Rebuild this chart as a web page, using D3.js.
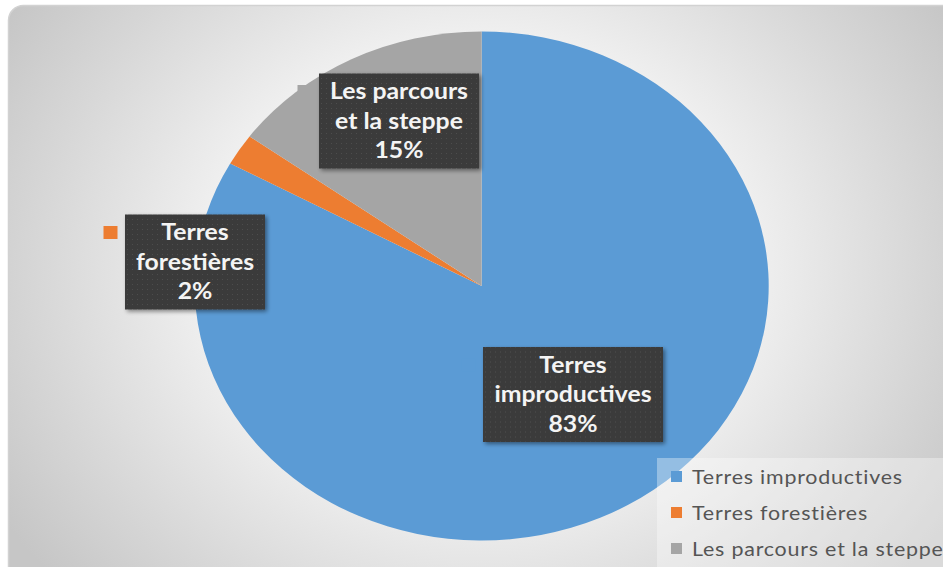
<!DOCTYPE html>
<html>
<head>
<meta charset="utf-8">
<script src="https://cdn.jsdelivr.net/npm/d3@7"></script>
<style>
  html, body { margin: 0; padding: 0; background: #ffffff; }
  svg { display: block; }
</style>
</head>
<body>
<div id="chart"></div>
<script>
// data
var categories = ["Terres improductives", "Terres forestières", "Les parcours et la steppe"];
var values = [83, 2, 15];
var labelLines = [["Terres", "improductives"], ["Terres", "forestières"], ["Les parcours", "et la steppe"]];
var colors = ["#5b9bd5", "#ed7d31", "#a5a5a5"];

// layout (label box centres and sizes, as placed by the original "best fit")
var labelBoxes = [
	{ cx: 573, cy: 394.5, w: 180, h: 95 },
	{ cx: 195, cy: 262, w: 140, h: 95 },
	{ cx: 399, cy: 121, w: 160, h: 95 }
];

var width = 943, height = 567;
var cx = 481.7, cy = 286;
var ry = 254.5, sx = 287 / 254.5;   // the picture is stretched horizontally

var svg = d3.select("#chart").append("svg")
	.attr("width", width)
	.attr("height", height);

var defs = svg.append("defs");

// panel background
var grad = defs.append("radialGradient")
	.attr("id", "bg")
	.attr("gradientUnits", "userSpaceOnUse")
	.attr("cx", 480).attr("cy", 270).attr("r", 560)
	.attr("gradientTransform", "translate(480,270) scale(1,0.85) translate(-480,-270)");
grad.append("stop").attr("offset", 0).attr("stop-color", "#ffffff");
grad.append("stop").attr("offset", 0.45).attr("stop-color", "#f3f3f3");
grad.append("stop").attr("offset", 0.8).attr("stop-color", "#d6d6d6");
grad.append("stop").attr("offset", 1).attr("stop-color", "#c6c6c6");

// dotted texture of the label boxes
var pat = defs.append("pattern")
	.attr("id", "dots")
	.attr("patternUnits", "userSpaceOnUse")
	.attr("width", 5).attr("height", 5);
pat.append("rect").attr("width", 5).attr("height", 5).attr("fill", "#3a3a3a");
pat.append("rect").attr("x", 2).attr("y", 2).attr("width", 1).attr("height", 1).attr("fill", "#4e4e4e");

var filter = defs.append("filter")
	.attr("id", "drop-shadow")
	.attr("x", "-10%").attr("y", "-10%")
	.attr("width", "130%").attr("height", "130%");
filter.append("feGaussianBlur").attr("in", "SourceAlpha").attr("stdDeviation", 2);
filter.append("feOffset").attr("dx", 2).attr("dy", 2).attr("result", "offsetBlur");
filter.append("feComponentTransfer").append("feFuncA").attr("type", "linear").attr("slope", 0.45);
var feMerge = filter.append("feMerge");
feMerge.append("feMergeNode");
feMerge.append("feMergeNode").attr("in", "SourceGraphic");

svg.append("rect")
	.attr("x", 8.5).attr("y", 5.5)
	.attr("width", 960).attr("height", 600)
	.attr("rx", 15).attr("ry", 15)
	.attr("fill", "url(#bg)")
	.attr("stroke", "#d2d2d2")
	.attr("stroke-width", 1.5);

// pie
var pie = d3.pie().sort(null).value(function(d) { return d; });
var arcs = pie(values);
var arc = d3.arc().innerRadius(0).outerRadius(ry);

var gPie = svg.append("g")
	.attr("transform", "translate(" + cx + "," + cy + ") scale(" + sx + ",1)");

gPie.selectAll("path")
	.data(arcs)
	.enter().append("path")
	.attr("d", arc)
	.attr("fill", function(d, i) { return colors[i]; });

// data labels
var total = d3.sum(values);
var labels = svg.selectAll("g.label")
	.data(arcs)
	.enter().append("g")
	.attr("class", "label")
	.attr("transform", function(d, i) {
		return "translate(" + labelBoxes[i].cx + "," + labelBoxes[i].cy + ")";
	});

// legend key of each label, sits left of the box
labels.append("rect")
	.attr("x", function(d, i) { return -labelBoxes[i].w / 2 - 21.5; })
	.attr("y", function(d, i) { return -labelBoxes[i].h / 2 + 11.5; })
	.attr("width", 14).attr("height", 13)
	.attr("fill", function(d, i) { return colors[i]; });

labels.append("rect")
	.attr("x", function(d, i) { return -labelBoxes[i].w / 2; })
	.attr("y", function(d, i) { return -labelBoxes[i].h / 2; })
	.attr("width", function(d, i) { return labelBoxes[i].w; })
	.attr("height", function(d, i) { return labelBoxes[i].h; })
	.attr("fill", "url(#dots)")
	.style("filter", "url(#drop-shadow)");

labels.each(function(d, i) {
	var g = d3.select(this);
	var lines = labelLines[i].concat([Math.round(d.value / total * 100) + "%"]);
	lines.forEach(function(t, j) {
		g.append("text")
			.attr("transform", "translate(0," + ((j - 1) * 29.5) + ") scale(" + sx + ",1)")
			.attr("text-anchor", "middle")
			.attr("dy", "0.35em")
			.attr("fill", "#f4f4f4")
			.style("font-family", "Lato, 'Open Sans', sans-serif")
			.style("font-weight", "bold")
			.style("font-size", "22px")
			.text(t);
	});
});

// legend
var legend = svg.append("g").attr("transform", "translate(657,458)");
legend.append("rect")
	.attr("width", 300).attr("height", 120)
	.attr("fill", "#ffffff")
	.attr("fill-opacity", 0.35);

var items = legend.selectAll("g.item")
	.data(categories)
	.enter().append("g")
	.attr("class", "item")
	.attr("transform", function(d, i) { return "translate(14," + (19 + i * 36) + ")"; });

items.append("rect")
	.attr("x", 0).attr("y", -6)
	.attr("width", 11).attr("height", 11)
	.attr("fill", function(d, i) { return colors[i]; });

items.append("text")
	.attr("transform", "translate(21,0) scale(" + sx + ",1)")
	.attr("dy", "0.35em")
	.attr("fill", "#555555")
	.style("font-family", "Lato, 'Open Sans', sans-serif")
	.style("font-size", "19px")
	.style("letter-spacing", "0.7px")
	.text(function(d) { return d; });
</script>
</body>
</html>
